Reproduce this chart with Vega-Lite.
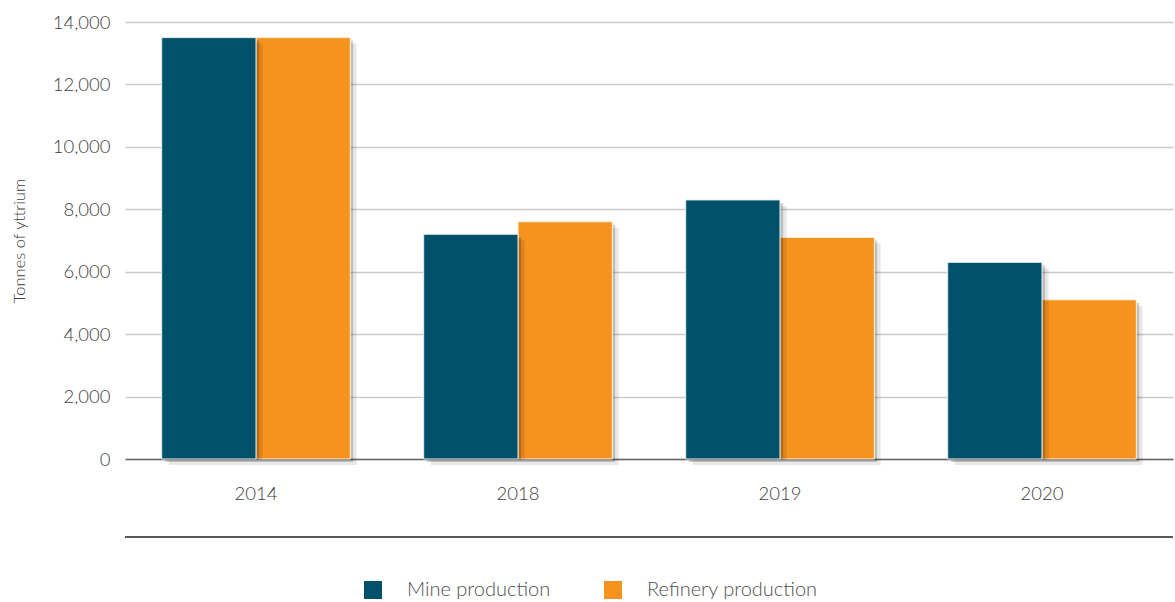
{
  "$schema": "https://vega.github.io/schema/vega-lite/v6.json",
  "autosize": {"type": "none"},
  "width": 1048,
  "height": 437,
  "padding": {"left": 125, "top": 22, "right": 2, "bottom": 143},
  "background": "white",
  "data": {
    "values": [
      {"year": "2014", "series": "Mine production", "value": 13500},
      {"year": "2014", "series": "Refinery production", "value": 13500},
      {"year": "2018", "series": "Mine production", "value": 7200},
      {"year": "2018", "series": "Refinery production", "value": 7600},
      {"year": "2019", "series": "Mine production", "value": 8300},
      {"year": "2019", "series": "Refinery production", "value": 7100},
      {"year": "2020", "series": "Mine production", "value": 6300},
      {"year": "2020", "series": "Refinery production", "value": 5100}
    ]
  },
  "layer": [
    {
      "encoding": {
        "x": {
          "field": "year",
          "type": "nominal",
          "scale": {"paddingInner": 0.28, "paddingOuter": 0.14},
          "axis": {
            "title": null,
            "labelAngle": 0,
            "labelPadding": 25,
            "ticks": false,
            "domainColor": "#666666",
            "domainWidth": 1.5,
            "labelFontSize": 18.5
          }
        },
        "y": {
          "field": "value",
          "type": "quantitative",
          "scale": {"domain": [0, 14000]},
          "axis": {
            "title": "Tonnes of yttrium",
            "titleFontSize": 16.5,
            "titlePadding": 25,
            "values": [0, 2000, 4000, 6000, 8000, 10000, 12000, 14000],
            "format": ",d",
            "domain": false,
            "ticks": false,
            "labelPadding": 15,
            "labelFontSize": 18.5,
            "gridColor": "#CCCCCC",
            "gridWidth": 1.5
          }
        }
      },
      "layer": [
        {
          "transform": [{"filter": "datum.series === 'Refinery production'"}],
          "mark": {"type": "bar", "color": "#000000", "opacity": 0.09, "yOffset": 6},
          "encoding": {"xOffset": {"field": "series", "scale": {"domain": ["Mine production", "Refinery production"], "range": [7, 195]}}}
        },
        {
          "transform": [{"filter": "datum.series === 'Refinery production'"}],
          "mark": {"type": "bar", "color": "#000000", "opacity": 0.18, "yOffset": 3},
          "encoding": {"xOffset": {"field": "series", "scale": {"domain": ["Mine production", "Refinery production"], "range": [3.5, 191.5]}}}
        },
        {
          "transform": [{"filter": "datum.series === 'Refinery production'"}],
          "mark": {"type": "bar", "stroke": "#FFF3E0", "strokeWidth": 1},
          "encoding": {
            "xOffset": {"field": "series", "scale": {"domain": ["Mine production", "Refinery production"]}},
            "color": {
              "field": "series",
              "type": "nominal",
              "scale": {"domain": ["Mine production", "Refinery production"], "range": ["#02516B", "#F6921E"]},
              "legend": {
                "title": null,
                "orient": "none",
                "direction": "horizontal",
                "legendX": 238,
                "legendY": 558,
                "symbolType": "square",
                "symbolSize": 324,
                "symbolStrokeWidth": 0,
                "labelFontSize": 20,
                "labelLimit": 400,
                "labelOffset": 24,
                "columnPadding": 52
              }
            }
          }
        },
        {
          "transform": [{"filter": "datum.series === 'Mine production'"}],
          "mark": {"type": "bar", "color": "#000000", "opacity": 0.09, "yOffset": 6},
          "encoding": {"xOffset": {"field": "series", "scale": {"domain": ["Mine production", "Refinery production"], "range": [7, 195]}}}
        },
        {
          "transform": [{"filter": "datum.series === 'Mine production'"}],
          "mark": {"type": "bar", "color": "#000000", "opacity": 0.18, "yOffset": 3},
          "encoding": {"xOffset": {"field": "series", "scale": {"domain": ["Mine production", "Refinery production"], "range": [3.5, 191.5]}}}
        },
        {
          "transform": [{"filter": "datum.series === 'Mine production'"}],
          "mark": {"type": "bar", "stroke": "#E6F0F3", "strokeWidth": 1},
          "encoding": {
            "xOffset": {"field": "series", "scale": {"domain": ["Mine production", "Refinery production"]}},
            "color": {"field": "series", "type": "nominal"}
          }
        }
      ],
      "resolve": {"scale": {"xOffset": "independent"}}
    },
    {
      "data": {"values": [{"sep": "line"}]},
      "mark": {"type": "rule", "color": "#222222", "strokeWidth": 1.5},
      "encoding": {
        "y": {
          "datum": -2500,
          "type": "quantitative",
          "axis": {
            "title": "Tonnes of yttrium",
            "titleFontSize": 16.5,
            "titlePadding": 25,
            "values": [0, 2000, 4000, 6000, 8000, 10000, 12000, 14000],
            "format": ",d",
            "domain": false,
            "ticks": false,
            "labelPadding": 15,
            "labelFontSize": 18.5,
            "gridColor": "#CCCCCC",
            "gridWidth": 1.5
          }
        }
      }
    }
  ],
  "config": {
    "view": {"stroke": null},
    "font": "Lato",
    "axis": {
      "labelFont": "Lato",
      "titleFont": "Lato",
      "labelColor": "#404040",
      "titleColor": "#404040",
      "labelFontWeight": 300,
      "titleFontWeight": 300
    },
    "legend": {
      "labelFont": "Lato",
      "labelColor": "#505050",
      "labelFontWeight": 300
    }
  }
}
